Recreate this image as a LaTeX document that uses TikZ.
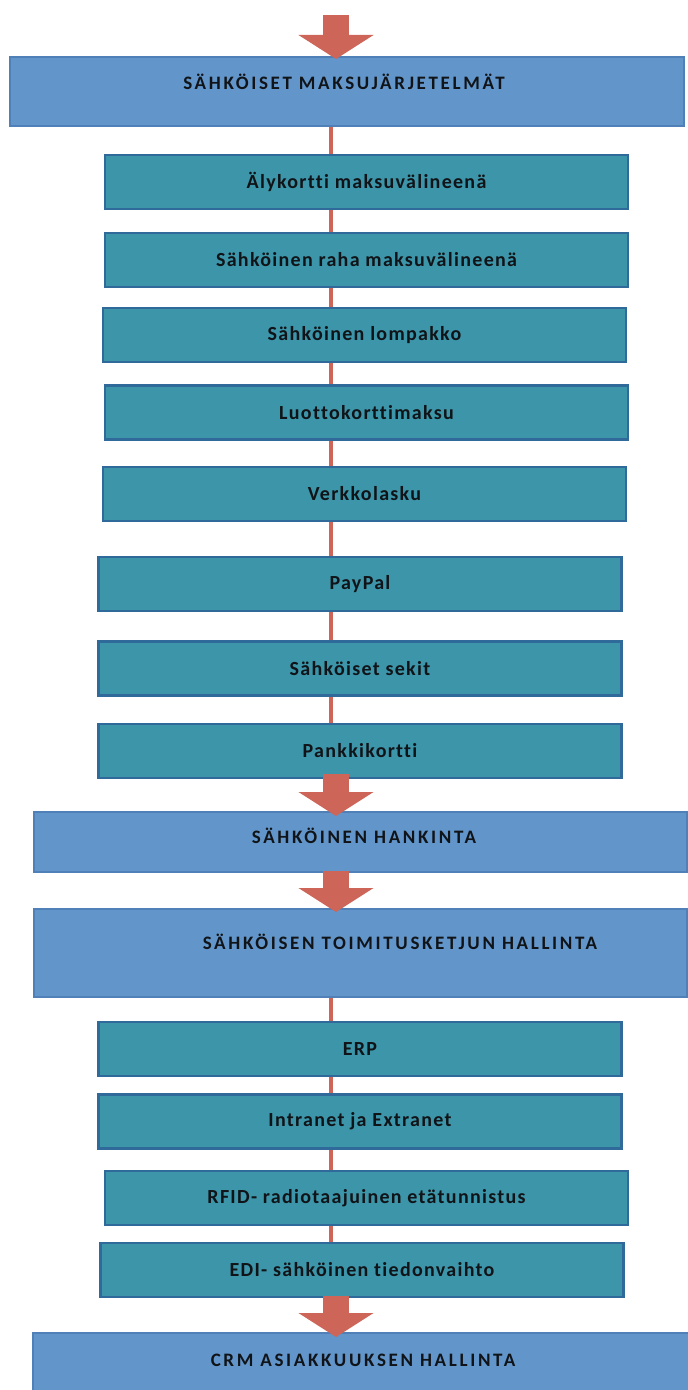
\documentclass[tikz,border=0pt]{standalone}
\usepackage{fontspec}
\setmainfont{Carlito}
\newfontfamily\bandfont[LetterSpace=14, Ligatures=NoCommon]{Carlito}
\newfontfamily\itemfont[LetterSpace=6.5, Ligatures=NoCommon]{Carlito}
\usepackage{tikz}
\usetikzlibrary{arrows.meta, positioning, backgrounds, calc}
\definecolor{bandblue}{HTML}{6295C9}
\definecolor{bandblueedge}{HTML}{5080B8}
\definecolor{tealfill}{HTML}{3C95A9}
\definecolor{tealedge}{HTML}{2F6A9B}
\definecolor{flowred}{HTML}{CD6559}
\definecolor{inktext}{HTML}{101418}

\tikzset{
  band/.style={draw=bandblueedge, fill=bandblue, line width=1pt, inner sep=0pt,
    minimum width=326.5pt},
  bandlabel/.style={font=\bandfont\bfseries\fontsize{9.5}{11}\selectfont, text=inktext, inner sep=0pt},
  item/.style={draw=tealedge, fill=tealfill, line width=1.2pt, inner sep=0pt,
    minimum width=261.5pt, minimum height=27pt,
    font=\itemfont\bfseries\fontsize{10}{12}\selectfont, text=inktext},
  link/.style={flowred, line width=2pt},
  flow/.style={flowred, line width=13pt, -{Triangle[length=12pt, width=37pt]}}
}

\begin{document}
\begin{tikzpicture}[x=0.5pt, y=-0.5pt]
  \useasboundingbox (0,0) rectangle (688,1390);
  \coordinate (spine) at (331,0);
  \coordinate (axis) at (336,0);
  \coordinate (start) at (336,15);

  % main bands
  \node[band, minimum width=337pt, minimum height=34.5pt] (maksu) at (347,91.5) {};
  \node[band, minimum height=30pt] (hankinta) at (360,842) {};
  \node[band, minimum height=44pt] (toimitus) at (360,953) {};
  \node[band, minimum width=328pt, minimum height=35pt] (crm) at (361,1368) {};

  \node[bandlabel] (maksuteksti) at (344,82) {SÄHKÖISET MAKSUJÄRJETELMÄT};
  \node[bandlabel] (hankintateksti) at (364,836) {SÄHKÖINEN HANKINTA};
  \node[bandlabel] (toimitusteksti) at (400,942) {SÄHKÖISEN TOIMITUSKETJUN HALLINTA};
  \node[bandlabel] (crmteksti) at (363,1360) {CRM ASIAKKUUKSEN HALLINTA};

  % sub items
  \foreach \nm/\cx/\cy/\txt in {
      alykortti/366.5/182/Älykortti maksuvälineenä,
      raha/366.5/260/Sähköinen raha maksuvälineenä,
      lompakko/364.5/335/Sähköinen lompakko,
      luotto/366.5/412.5/Luottokorttimaksu,
      verkko/364.5/494/Verkkolasku,
      paypal/360/584/PayPal,
      sekit/360/668.5/Sähköiset sekit,
      pankki/360/751/Pankkikortti,
      erp/360/1049/ERP,
      intranet/360/1121.5/Intranet ja Extranet,
      rfid/366.5/1198/RFID- radiotaajuinen etätunnistus,
      edi/362/1270/EDI- sähköinen tiedonvaihto}
    \node[item] (\nm) at (\cx,\cy) {\txt};

  % thin links behind the boxes
  \begin{scope}[on background layer]
    \foreach \a/\b in {maksu/alykortti, alykortti/raha, raha/lompakko,
        lompakko/luotto, luotto/verkko, verkko/paypal, paypal/sekit,
        sekit/pankki, toimitus/erp, erp/intranet, intranet/rfid, rfid/edi}
      \draw[link] (\a.south -| spine) -- (\b.north -| spine);
  \end{scope}

  % block arrows
  \draw[flow] (start) -- ([yshift=-1.5pt]maksu.north -| axis);
  \draw[flow] ([yshift=2.5pt]pankki.south -| axis) -- ([yshift=-2.5pt]hankinta.north -| axis);
  \draw[flow] ([yshift=1pt]hankinta.south -| axis) -- ([yshift=-2pt]toimitus.north -| axis);
  \draw[flow] ([yshift=1pt]edi.south -| axis) -- ([yshift=-2.5pt]crm.north -| axis);
\end{tikzpicture}
\end{document}
